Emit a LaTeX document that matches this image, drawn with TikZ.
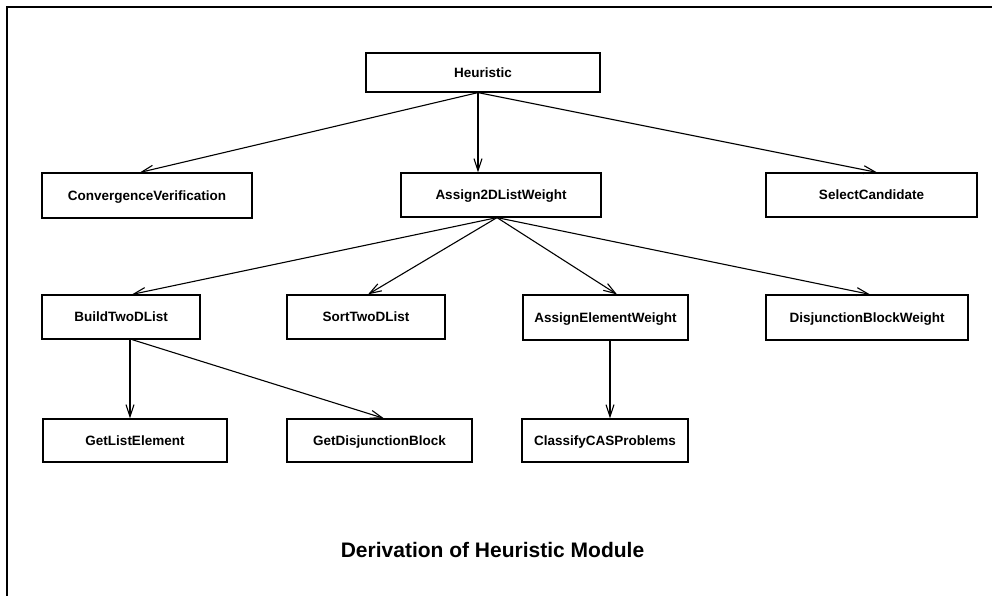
\documentclass[tikz,border=0pt]{standalone}
\usepackage{fontspec}
\setmainfont{Liberation Sans}
\usetikzlibrary{arrows.meta}
\begin{document}
\begin{tikzpicture}[x=1pt,y=-1pt,
  module/.style={draw, line width=1.2pt, inner sep=0pt, anchor=center,
    text height=9.7pt, text depth=0pt,
    font=\fontsize{13.5}{16}\selectfont\bfseries},
  link/.style={line width=1.1pt, -{Straight Barb[length=12pt,width=8pt,line width=1.1pt]}},
  caption/.style={font=\fontsize{21}{24}\selectfont\bfseries, anchor=base}]
  \useasboundingbox (0,0) rectangle (992,596);

  % page frame (top and left edges)
  \draw[line width=1.5pt] (7,596) -- (7,7) -- (992,7);

  % module hierarchy
  \node[module, minimum width=234pt, minimum height=39pt] (heur)     at (483,72.5)  {Heuristic};
  \node[module, minimum width=210pt, minimum height=45pt] (conv)     at (147,195.5) {ConvergenceVerification};
  \node[module, minimum width=200pt, minimum height=44pt] (assign2d) at (501,195)   {Assign2DListWeight};
  \node[module, minimum width=211pt, minimum height=44pt] (select)   at (871.5,195) {SelectCandidate};

  \node[module, minimum width=158pt, minimum height=44pt] (build)    at (121,317)   {BuildTwoDList};
  \node[module, minimum width=158pt, minimum height=44pt] (sort)     at (366,317)   {SortTwoDList};
  \node[module, minimum width=165pt, minimum height=45pt] (assignel) at (605.5,317.5) {AssignElementWeight};
  \node[module, minimum width=202pt, minimum height=45pt] (disj)     at (867,317.5) {DisjunctionBlockWeight};

  \node[module, minimum width=184pt, minimum height=43pt] (getlist)  at (135,440.5) {GetListElement};
  \node[module, minimum width=185pt, minimum height=43pt] (getdisj)  at (379.5,440.5) {GetDisjunctionBlock};
  \node[module, minimum width=166pt, minimum height=43pt] (classify) at (605,440.5) {ClassifyCASProblems};

  % calls
  \draw[link] ([xshift=-5pt]heur.south) -- ([xshift=-7pt]conv.north);
  \draw[link] ([xshift=-5pt]heur.south) -- ([xshift=-23pt]assign2d.north);
  \draw[link] ([xshift=-5pt]heur.south) -- ([xshift=5.5pt]select.north);

  \draw[link] ([xshift=-4pt]assign2d.south) -- ([xshift=11pt]build.north);
  \draw[link] ([xshift=-4pt]assign2d.south) -- ([xshift=2pt]sort.north);
  \draw[link] ([xshift=-4pt]assign2d.south) -- ([xshift=11.5pt]assignel.north);
  \draw[link] ([xshift=-4pt]assign2d.south) -- ([xshift=3pt]disj.north);

  \draw[link] ([xshift=9pt]build.south) -- ([xshift=-5pt]getlist.north);
  \draw[link] ([xshift=11pt]build.south) -- ([xshift=4.5pt]getdisj.north);

  \draw[link] ([xshift=4.5pt]assignel.south) -- ([xshift=5pt]classify.north);

  % caption
  \node[caption] (title) at (492.5,557) {Derivation of Heuristic Module};
\end{tikzpicture}
\end{document}
